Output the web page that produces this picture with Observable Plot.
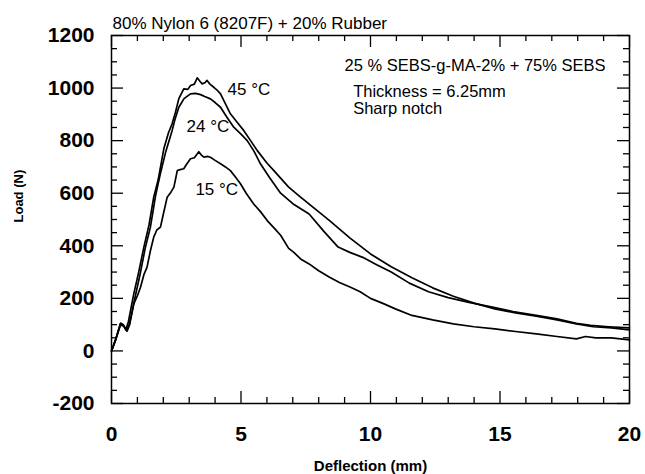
<!DOCTYPE html>
<html>
<head>
<meta charset="utf-8">
<script src="https://cdn.jsdelivr.net/npm/d3@7"></script>
<script src="https://cdn.jsdelivr.net/npm/@observablehq/plot@0.6"></script>
<style>
  html, body { margin: 0; padding: 0; background: #fff; }
  svg { display: block; }
</style>
</head>
<body>
<div id="chart"></div>
<script>
// ---- data ----
const curve45 = [[0,0],[0.15,40],[0.35,105],[0.45,100],[0.55,80],[0.65,110],[0.86,217],[1.05,300],[1.25,395],[1.45,480],[1.63,585],[1.8,650],[2.02,769],[2.2,830],[2.34,864],[2.47,908],[2.6,960],[2.79,997],[2.95,995],[3.05,1010],[3.2,1015],[3.31,1039],[3.42,1025],[3.5,1016],[3.6,1020],[3.69,1029],[3.8,1015],[3.95,1003],[4.1,990],[4.21,978],[4.4,940],[4.59,902],[4.85,870],[5.11,838],[5.37,800],[5.63,762],[6.0,715],[6.27,686],[6.84,623],[7.3,585],[7.8,545],[8.42,496],[9.2,430],[10.0,369],[10.8,320],[11.6,278],[12.4,240],[13.2,208],[14.0,182],[14.8,160],[15.6,145],[16.4,132],[17.2,118],[17.95,103],[18.6,92],[19.3,88],[20,80]];
const curve24 = [[0,0],[0.15,40],[0.35,105],[0.45,100],[0.6,75],[0.7,100],[0.9,200],[1.1,290],[1.3,390],[1.5,470],[1.7,590],[1.9,680],[2.1,760],[2.34,838],[2.45,880],[2.6,927],[2.8,960],[3.05,978],[3.25,980],[3.44,975],[3.6,968],[3.82,959],[4.0,945],[4.21,927],[4.45,890],[4.72,851],[5.0,825],[5.24,800],[5.5,760],[5.75,712],[6.1,660],[6.53,600],[7.0,560],[7.63,521],[8.2,455],[8.75,395],[9.2,375],[9.7,356],[10.2,330],[10.8,300],[11.5,258],[12.24,225],[13.0,203],[13.8,185],[14.8,165],[15.5,150],[16.4,135],[17.2,122],[17.95,105],[18.5,97],[19.2,92],[20,88]];
const curve15 = [[0,0],[0.15,40],[0.35,100],[0.45,95],[0.6,80],[0.7,105],[0.86,179],[1.0,210],[1.12,242],[1.25,290],[1.37,318],[1.5,380],[1.63,433],[1.75,460],[1.89,471],[2.0,520],[2.15,585],[2.3,605],[2.41,623],[2.54,686],[2.65,690],[2.79,693],[2.9,710],[3.05,731],[3.2,735],[3.37,758],[3.47,745],[3.57,737],[3.7,740],[3.82,737],[4.0,725],[4.21,712],[4.4,700],[4.59,686],[4.8,660],[4.98,636],[5.2,600],[5.49,559],[5.75,530],[6.02,495],[6.3,465],[6.53,440],[6.84,390],[7.04,375],[7.3,350],[7.63,331],[8.0,305],[8.42,280],[8.8,260],[9.23,242],[9.6,225],[10.0,200],[10.5,180],[10.96,160],[11.6,135],[12.4,118],[13.2,103],[14.0,92],[14.8,84],[15.6,74],[16.4,65],[17.2,55],[17.95,46],[18.3,55],[18.7,50],[19.3,50],[20,42]];

const curveLabels = [
  {x: 4.48, y: 975, text: "45 °C"},
  {x: 2.90, y: 832, text: "24 °C"},
  {x: 3.24, y: 595, text: "15 °C"}
];
const noteLabels = [
  {x: 9.00, y: 1064, text: "25 % SEBS-g-MA-2% + 75% SEBS"},
  {x: 9.33, y: 966, text: "Thickness = 6.25mm"},
  {x: 9.33, y: 902, text: "Sharp notch"}
];
const titleText = "80% Nylon 6 (8207F) + 20% Rubber";
const xLabel = "Deflection (mm)";
const yLabel = "Load (N)";

const xMajorTicks = [0, 5, 10, 15, 20];
const xMinorTicks = [1, 2, 3, 4, 6, 7, 8, 9, 11, 12, 13, 14, 16, 17, 18, 19];
const yMajorTicks = [-200, 0, 200, 400, 600, 800, 1000, 1200];
const yMinorTicks = [-150, -100, -50, 50, 100, 150, 250, 300, 350, 450, 500, 550, 650, 700, 750, 850, 900, 950, 1050, 1100, 1150];

const series = [
  {name: "45", pts: curve45},
  {name: "24", pts: curve24},
  {name: "15", pts: curve15}
];
const lineData = series.flatMap(s => s.pts.map(([x, y]) => ({series: s.name, x, y})));

const font = "'Liberation Sans', Arial, Helvetica, sans-serif";

const W = 645, H = 474, ML = 111, MR = 16, MT = 35, MB = 71;
const plotW = W - ML - MR, plotH = H - MT - MB;
const tickStyle = {stroke: "#000", strokeWidth: 1.3};
// inward ticks: rules spanning the frame, shortened by insets to the tick length
const bottomTicks = (v, len) => Plot.ruleX(v, {x: d => d, insetTop: plotH - len, ...tickStyle});
const topTicks = (v, len) => Plot.ruleX(v, {x: d => d, insetBottom: plotH - len, ...tickStyle});
const leftTicks = (v, len) => Plot.ruleY(v, {y: d => d, insetRight: plotW - len, ...tickStyle});
const rightTicks = (v, len) => Plot.ruleY(v, {y: d => d, insetLeft: plotW - len, ...tickStyle});

const chart = Plot.plot({
  width: W,
  height: H,
  marginLeft: ML,
  marginRight: MR,
  marginTop: MT,
  marginBottom: MB,
  style: {fontFamily: font, background: "#fff", color: "#000"},
  x: {domain: [0, 20]},
  y: {domain: [-200, 1200]},
  marks: [
    Plot.frame({stroke: "#000", strokeWidth: 1.5}),
    // labelled axes
    Plot.axisX(xMajorTicks, {anchor: "bottom", tickSize: 0, tickPadding: 23, fontSize: 21, fontWeight: "bold", label: null, tickFormat: d => String(d)}),
    Plot.axisY(yMajorTicks, {anchor: "left", tickSize: 0, tickPadding: 17, fontSize: 21, fontWeight: "bold", label: null, tickFormat: d => String(d)}),
    // inward ticks on all four sides
    bottomTicks(xMajorTicks, 12), bottomTicks(xMinorTicks, 6),
    topTicks(xMajorTicks, 12), topTicks(xMinorTicks, 6),
    leftTicks(yMajorTicks, 12), leftTicks(yMinorTicks, 6),
    rightTicks(yMajorTicks, 12), rightTicks(yMinorTicks, 6),
    // curves
    Plot.line(lineData, {x: "x", y: "y", z: "series", stroke: "#000", strokeWidth: 1.7, curve: "linear"}),
    // curve labels
    Plot.text(curveLabels, {x: "x", y: "y", text: "text", textAnchor: "start", lineAnchor: "bottom", fontSize: 17, fill: "#000"}),
    Plot.text(noteLabels, {x: "x", y: "y", text: "text", textAnchor: "start", lineAnchor: "bottom", fontSize: 16.5, fill: "#000"}),
    // title
    Plot.text([titleText], {frameAnchor: "top-left", text: d => d, textAnchor: "start", lineAnchor: "bottom", dx: 1, dy: -7, fontSize: 17, fill: "#000"}),
    // axis labels
    Plot.text([xLabel], {frameAnchor: "bottom", text: d => d, lineAnchor: "bottom", dy: 67, fontSize: 15, fontWeight: "bold", fill: "#000"}),
    Plot.text([yLabel], {frameAnchor: "left", text: d => d, rotate: -90, lineAnchor: "middle", dx: -93, dy: 3, fontSize: 13, fontWeight: "bold", fill: "#000"})
  ]
});
document.getElementById("chart").appendChild(chart);
</script>
</body>
</html>
